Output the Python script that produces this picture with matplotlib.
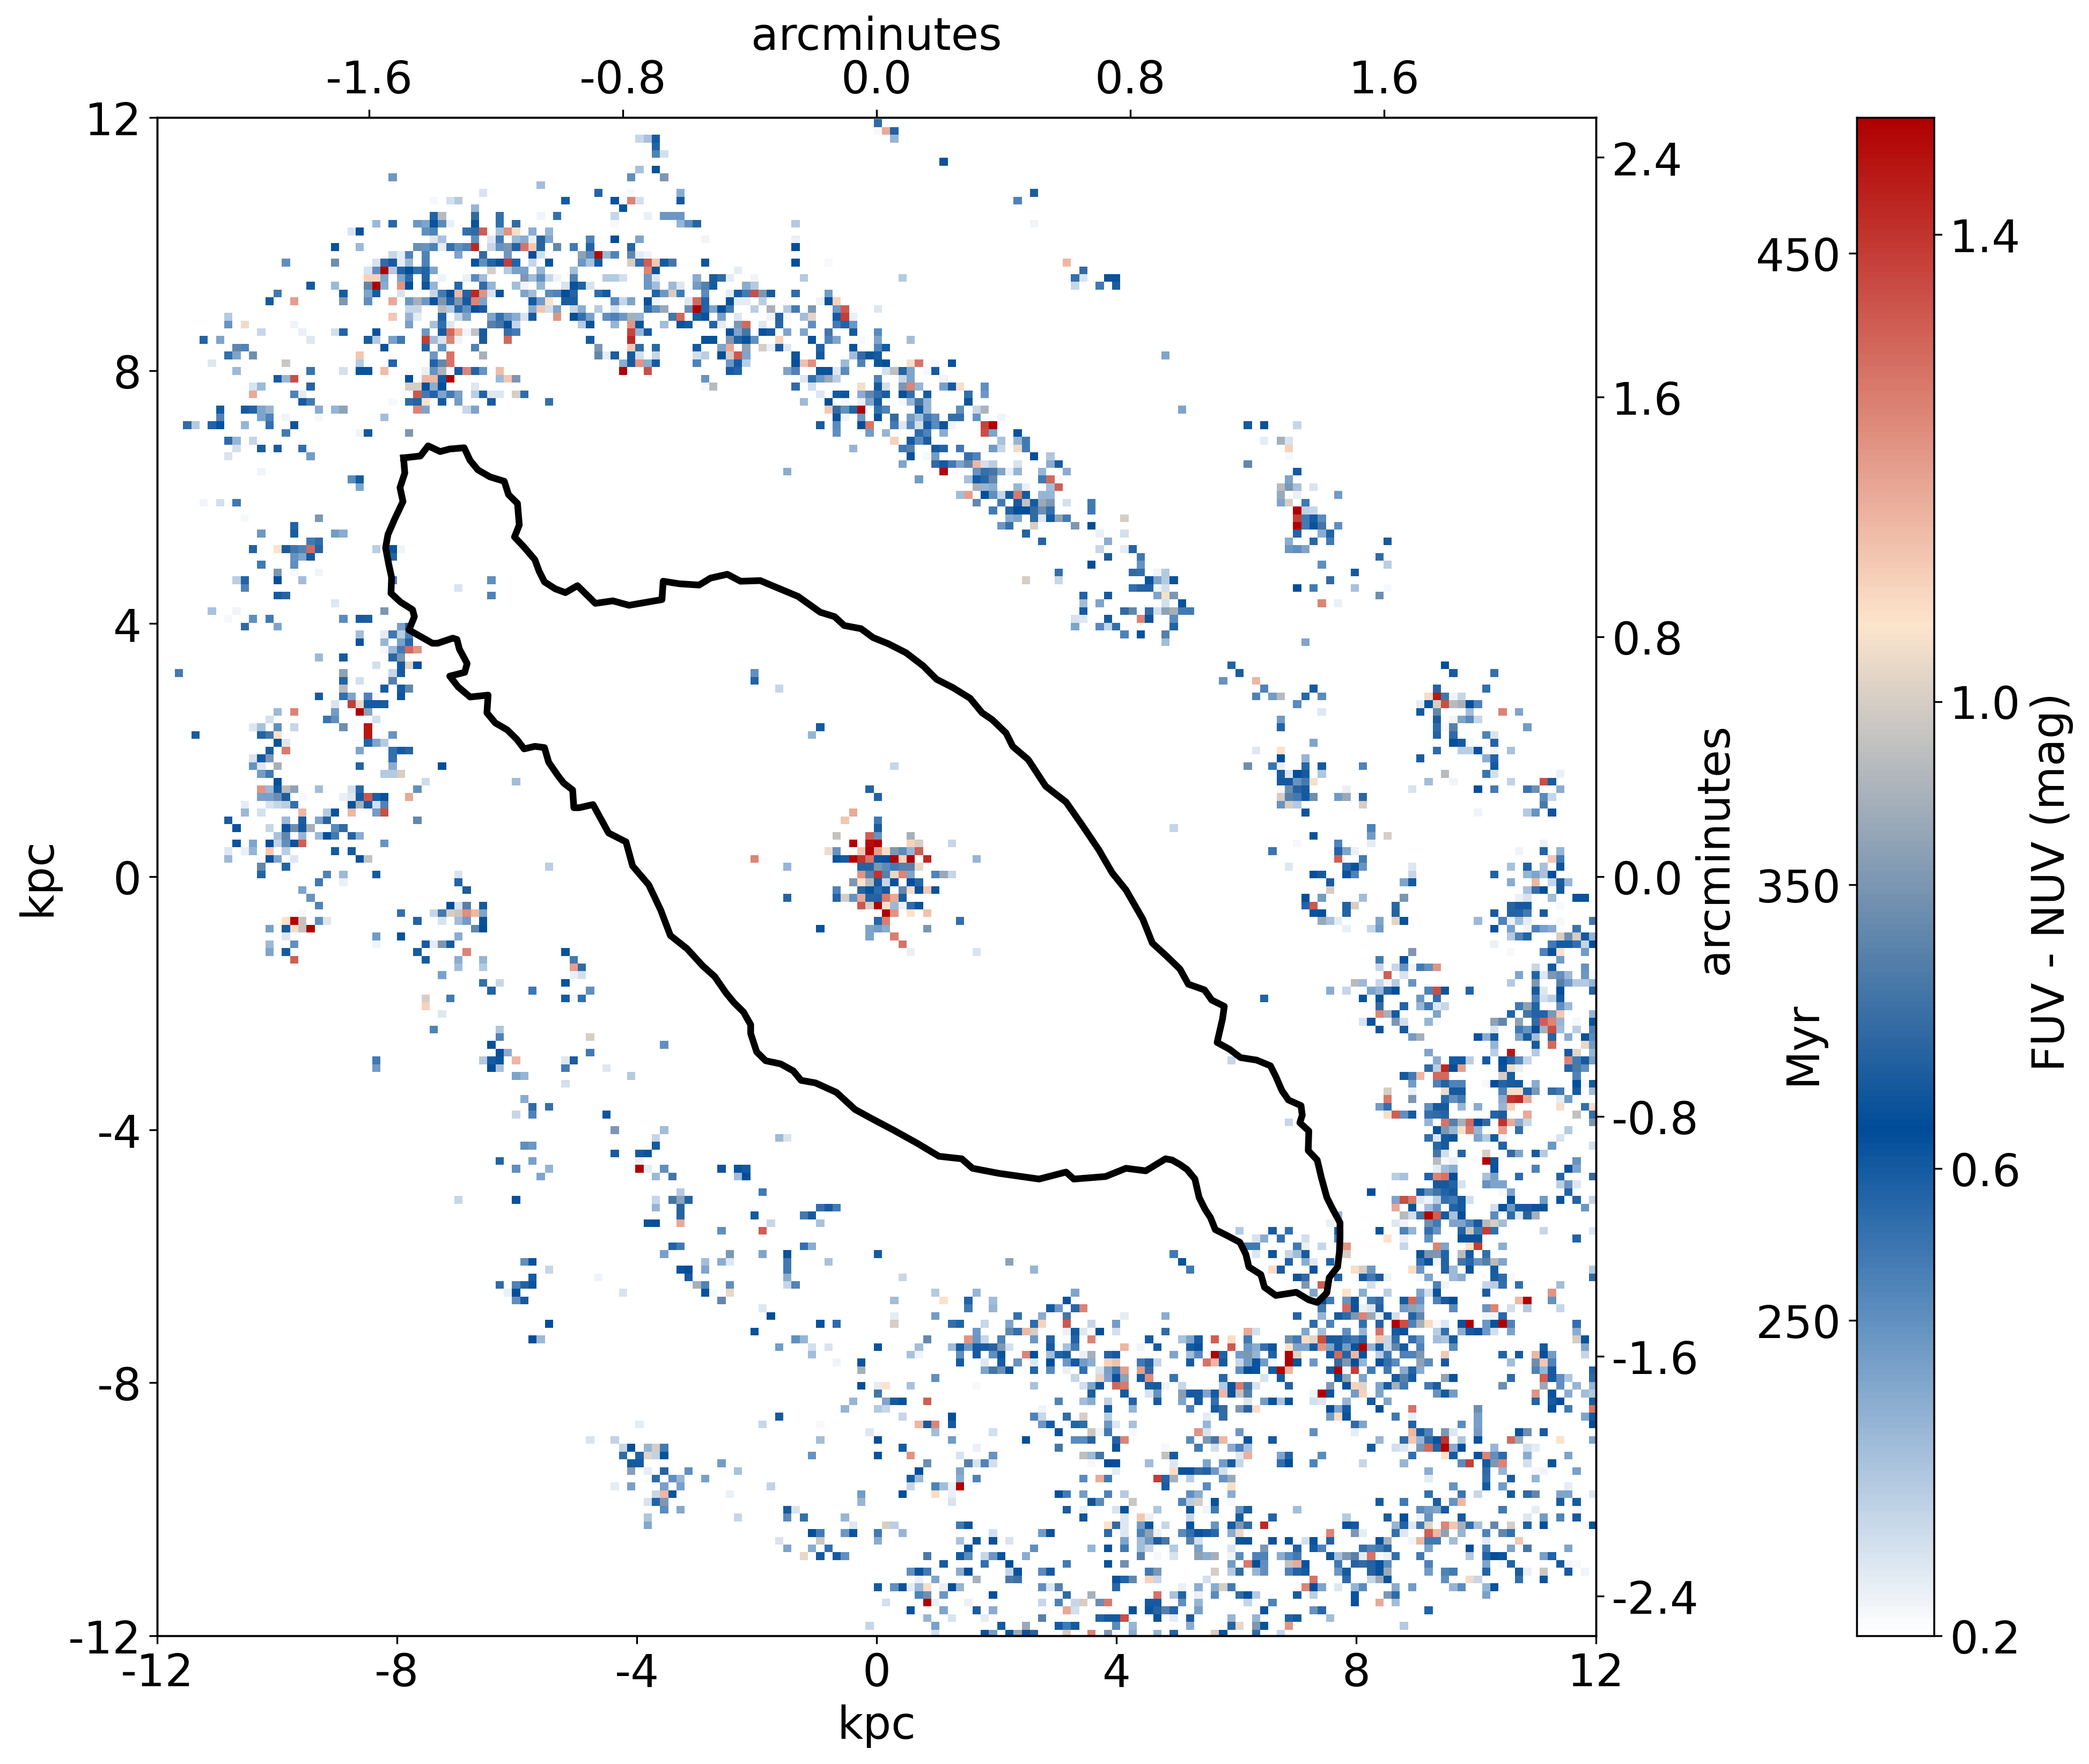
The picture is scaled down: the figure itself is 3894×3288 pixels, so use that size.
import numpy as np
import matplotlib
matplotlib.use("Agg")
import matplotlib.pyplot as plt
from matplotlib.colors import LinearSegmentedColormap

plt.rcParams['axes.unicode_minus'] = False

# each row list is: row, col, colour*100, col, colour*100, ...
north_west_cells = [
    [3, 59, 30, 60, 35, 61, 60], [4, 61, 58], [5, 61, 50, 62, 28], [7, 59, 35, 61, 62],
    [8, 29, 45, 58, 47, 62, 85], [9, 47, 36], [10, 40, 27, 54, 58, 58, 22, 64, 40],
    [11, 34, 22, 36, 28, 37, 33, 50, 60, 56, 62, 58, 125, 59, 28, 64, 60], [12, 39, 38, 57, 62],
    [13, 34, 58, 35, 95, 39, 72, 42, 55, 47, 23, 49, 55, 56, 30, 60, 24, 62, 45, 63, 45, 64, 45],
    [14, 27, 37, 29, 57, 32, 45, 33, 42, 34, 62, 35, 48, 36, 24, 39, 62, 42, 55, 44, 72, 56, 22, 64, 38],
    [15, 24, 27, 25, 62, 33, 47, 34, 50, 38, 55, 39, 72, 40, 132, 42, 35, 43, 122, 44, 105, 46, 40, 48, 38],
    [16, 34, 26, 35, 35, 39, 47, 41, 26, 42, 52, 44, 37, 45, 40, 46, 24, 47, 70, 48, 42, 53, 50, 56, 63, 59, 42],
    [17, 22, 62, 25, 37, 32, 82, 33, 46, 34, 50, 35, 25, 36, 55, 37, 47, 38, 50, 39, 142, 41, 30, 42, 46, 43, 85, 44, 58, 45, 128, 46, 112, 47, 70, 49, 80, 51, 52, 53, 58, 58, 70],
    [18, 29, 30, 30, 25, 31, 50, 33, 50, 37, 42, 40, 72, 43, 45, 46, 63, 47, 28, 52, 88, 53, 48, 54, 148, 55, 37, 56, 50, 58, 80, 59, 25, 60, 23],
    [19, 16, 47, 22, 82, 27, 27, 28, 72, 29, 60, 30, 25, 31, 37, 33, 50, 39, 62, 40, 47, 41, 58, 42, 62, 43, 138, 44, 58, 46, 30, 48, 62, 52, 45, 53, 35, 54, 60, 58, 100, 59, 55, 60, 132, 61, 112, 62, 60, 63, 75],
    [20, 26, 27, 27, 47, 28, 150, 29, 33, 30, 58, 31, 63, 32, 55, 33, 58, 34, 42, 41, 100, 43, 33, 44, 43, 45, 43, 47, 38, 51, 36, 60, 125, 61, 62],
    [21, 26, 110, 27, 110, 28, 42, 30, 42, 31, 56, 33, 58, 35, 23, 38, 24, 39, 48, 40, 36, 45, 85, 46, 36, 47, 47, 48, 30, 49, 23, 51, 50, 55, 33, 56, 33, 57, 28, 60, 45, 61, 26],
    [22, 19, 60, 22, 37, 26, 80, 27, 150, 28, 40, 30, 122, 31, 63, 33, 66, 34, 38, 37, 57, 40, 72, 41, 38, 44, 36, 45, 23, 47, 38, 50, 27, 51, 62, 52, 58, 53, 27, 60, 45, 61, 36, 63, 37, 64, 26],
    [23, 15, 53, 23, 60, 26, 42, 27, 60, 30, 27, 34, 30, 35, 52, 36, 63, 37, 115, 38, 58, 39, 142, 40, 122, 41, 27, 42, 62, 45, 42, 46, 36, 48, 48, 49, 50, 50, 63, 51, 70, 54, 56, 55, 60, 61, 58, 62, 45, 63, 100, 64, 52],
    [24, 14, 60, 17, 120, 23, 85, 26, 47, 29, 118, 31, 45, 32, 92, 33, 45, 34, 62, 35, 85, 36, 58, 37, 85, 38, 60, 39, 125, 40, 42, 46, 60, 47, 44, 48, 107, 50, 68, 51, 68, 56, 48, 57, 30, 58, 42, 60, 62, 61, 23],
    [25, 31, 30, 32, 30, 35, 95, 36, 33, 37, 56, 38, 47, 39, 63, 40, 60, 46, 40, 47, 112, 48, 28, 49, 42, 51, 30, 52, 40, 54, 33, 56, 28, 60, 55, 61, 47, 62, 90],
    [26, 9, 33, 29, 112, 31, 38, 32, 25, 35, 58, 37, 30, 38, 42, 41, 42, 42, 55, 43, 45, 44, 40, 45, 27, 46, 60, 49, 122, 51, 63, 52, 55, 53, 43, 55, 47, 56, 50, 57, 45, 58, 92, 59, 38, 63, 75, 64, 130],
    [27, 9, 46, 11, 104, 17, 23, 31, 43, 34, 35, 35, 55, 36, 26, 41, 78, 42, 75, 43, 62, 44, 30, 52, 33, 53, 62, 56, 38, 58, 122, 59, 62, 62, 36, 64, 62],
    [28, 13, 30, 18, 24, 22, 28, 23, 58, 27, 65, 33, 45, 35, 60, 36, 130, 37, 115, 38, 23, 39, 97, 40, 60, 43, 55, 44, 52, 58, 137, 59, 38, 60, 60],
    [29, 6, 58, 8, 42, 19, 26, 26, 68, 27, 33, 29, 43, 30, 53, 33, 138, 34, 36, 35, 27, 36, 125, 37, 23, 40, 68, 43, 130, 53, 60, 58, 142],
    [30, 10, 80, 11, 50, 28, 62, 33, 58, 35, 46, 39, 50, 54, 85, 58, 112, 59, 72, 61, 57],
    [31, 9, 55, 10, 42, 12, 82, 25, 112, 34, 45, 36, 128, 40, 92, 54, 80, 55, 25, 56, 68, 58, 60, 59, 28, 61, 30],
    [32, 7, 26, 16, 98, 25, 33, 29, 58, 34, 58, 35, 80, 36, 128, 57, 40, 58, 60, 59, 122, 60, 40, 61, 60],
    [33, 10, 37, 19, 54, 23, 28, 25, 62, 26, 62, 28, 114, 33, 24, 34, 46, 35, 93, 37, 60, 38, 125, 39, 58, 40, 46, 42, 114, 57, 150, 60, 135],
    [34, 15, 60, 16, 38, 17, 135, 31, 63, 33, 115, 34, 115, 35, 60, 36, 150, 42, 37, 43, 112, 44, 85],
    [35, 12, 27, 13, 37, 19, 70, 31, 100, 32, 100, 33, 65, 34, 40, 35, 63, 39, 26],
    [36, 12, 118, 17, 50, 18, 25, 32, 133, 33, 52, 34, 58, 35, 42, 36, 52, 37, 43, 39, 32, 40, 58, 41, 26, 42, 26, 44, 100, 45, 56],
    [37, 18, 60, 19, 52, 29, 22, 31, 56, 32, 58, 33, 107, 35, 60, 37, 44, 41, 60, 48, 55],
    [38, 8, 60, 11, 60, 12, 58, 13, 42, 14, 38, 20, 40, 22, 38, 23, 88, 32, 125, 33, 42, 38, 30, 39, 42],
    [39, 8, 50, 13, 42, 14, 50, 16, 23, 20, 22, 28, 36], [40, 4, 72, 5, 33, 7, 58, 8, 62, 11, 38, 14, 55, 17, 66],
    [41, 16, 52, 25, 23, 26, 67, 31, 85], [42, 9, 56, 10, 38, 12, 30], [43, 10, 28, 13, 68, 15, 60, 18, 55],
    [44, 9, 27, 19, 44], [46, 13, 23], [47, 24, 48, 25, 60], [48, 25, 42], [50, 6, 23, 8, 28, 10, 53],
    [52, 11, 22, 20, 85], [53, 17, 58], [54, 13, 45, 17, 68, 22, 44, 23, 40],
]

west_cells = [
    [55, 19, 52, 20, 56], [56, 12, 58, 15, 107, 16, 68, 17, 75, 18, 50, 19, 130, 20, 58, 27, 32, 29, 62, 30, 23],
    [57, 17, 46, 18, 42, 19, 60, 29, 58], [58, 13, 52, 17, 47], [59, 15, 85, 17, 22, 20, 23],
    [60, 10, 32, 11, 58, 15, 63, 18, 36, 29, 50, 41, 47], [61, 11, 50, 37, 27], [62, 15, 60, 16, 70, 41, 50],
    [63, 22, 26], [64, 7, 35, 10, 23, 28, 85], [65, 9, 22, 12, 47, 14, 52, 23, 48, 25, 60, 26, 68],
    [66, 11, 72, 15, 42, 30, 43, 31, 70], [67, 25, 36, 28, 25, 29, 53, 30, 32, 31, 50],
    [68, 25, 62, 28, 38, 30, 43, 31, 57], [69, 28, 22, 29, 37, 30, 52, 31, 130, 32, 122],
    [70, 20, 37, 23, 60, 29, 57, 30, 85], [71, 27, 28, 30, 60, 31, 102, 32, 63], [72, 3, 52, 23, 88, 29, 30, 30, 60],
    [73, 23, 58, 25, 28, 29, 78], [74, 23, 95, 28, 60, 30, 60, 31, 80],
    [75, 20, 60, 23, 55, 24, 42, 26, 50, 27, 22, 30, 66], [76, 22, 27, 24, 138, 25, 103, 26, 60, 27, 60, 28, 68],
    [77, 15, 37, 17, 125, 22, 44, 25, 150, 26, 88], [78, 14, 28, 21, 54, 22, 47, 27, 28],
    [79, 12, 26, 13, 35, 15, 47, 17, 30, 23, 82, 26, 145], [80, 5, 68, 13, 58, 14, 75, 15, 107, 26, 145, 29, 46],
    [81, 15, 62, 16, 26, 26, 58, 27, 42, 28, 33], [82, 14, 68, 16, 127, 25, 42, 29, 55, 30, 60, 31, 70],
    [83, 12, 27, 13, 60, 14, 85, 29, 55], [84, 12, 46, 13, 26, 15, 92, 25, 70, 29, 40, 35, 63],
    [85, 13, 44, 14, 53, 28, 33, 29, 33, 30, 100], [86, 15, 63, 33, 29, 44, 36],
    [87, 13, 122, 14, 37, 15, 60, 16, 95, 17, 88, 20, 36, 24, 28, 25, 57, 32, 47],
    [88, 13, 43, 14, 43, 15, 82, 16, 68, 18, 22, 23, 24, 24, 26, 25, 60, 26, 133, 27, 59, 28, 65, 31, 118],
    [89, 11, 25, 14, 27, 15, 30, 16, 32, 17, 55, 24, 62, 25, 92, 26, 60, 27, 28, 28, 50],
    [90, 11, 37, 13, 28, 18, 115, 21, 33, 22, 62, 24, 115, 27, 44, 28, 135],
    [91, 9, 68, 16, 37, 18, 68, 20, 42, 21, 70, 32, 80], [92, 10, 62, 14, 30, 16, 62, 17, 82, 18, 60, 19, 92, 22, 48, 23, 72],
    [93, 15, 35, 16, 80, 18, 38, 20, 37, 21, 63, 22, 52, 24, 58, 25, 40],
    [94, 10, 62, 12, 42, 14, 63, 15, 31, 16, 47, 17, 62, 18, 132, 28, 46],
    [95, 9, 26, 11, 24, 12, 38, 14, 112, 16, 32, 22, 60, 24, 60], [96, 9, 37, 14, 62, 15, 42, 17, 26, 25, 62, 26, 97],
    [97, 13, 80, 16, 58, 48, 32], [98, 13, 58, 21, 50, 23, 37, 27, 60, 37, 27], [99, 20, 53, 23, 24, 37, 58],
    [100, 18, 42, 38, 68], [101, 19, 46], [102, 20, 50, 36, 63, 37, 27, 38, 78, 40, 60],
    [103, 18, 22, 30, 55, 34, 30, 35, 52, 36, 100, 37, 98, 38, 123, 39, 115, 40, 42],
    [104, 16, 107, 17, 150, 18, 97, 20, 47, 21, 26, 32, 58, 35, 27, 37, 36, 38, 44, 40, 65],
    [105, 14, 43, 16, 60, 17, 105, 18, 97, 19, 150, 39, 80, 40, 63], [106, 16, 26, 27, 44, 30, 62, 37, 40],
    [107, 14, 37, 17, 47, 27, 23, 33, 60, 34, 25, 35, 85, 36, 60], [108, 14, 42, 16, 60, 32, 60, 38, 125, 50, 65],
    [109, 17, 132, 33, 60, 37, 40, 40, 38, 51, 52],
]

south_west_cells = [
    [110, 37, 36, 40, 33, 51, 120, 52, 72], [111, 35, 43, 51, 24, 52, 28], [112, 40, 55, 42, 30, 50, 62],
    [113, 41, 58, 46, 53, 53, 47], [114, 33, 100, 36, 52, 50, 60, 51, 22, 52, 55], [115, 33, 110], [116, 35, 26],
    [118, 34, 50, 42, 34], [119, 42, 50, 53, 100], [120, 41, 65, 62, 47], [121, 42, 65, 43, 40, 53, 52],
    [122, 27, 52, 40, 33, 41, 60, 42, 66, 44, 115, 50, 26, 51, 68], [123, 27, 44, 41, 63, 42, 35, 50, 52, 55, 26],
    [124, 44, 42, 45, 38, 58, 33], [125, 50, 28], [127, 45, 40], [128, 46, 72, 48, 55], [129, 44, 30, 46, 50, 55, 66],
    [131, 56, 85, 62, 36], [132, 61, 30, 76, 37, 77, 27], [133, 45, 47, 46, 45, 61, 60], [134, 56, 60, 59, 60, 60, 62],
    [135, 42, 58, 46, 43, 59, 24], [136, 44, 47, 48, 38, 59, 150, 60, 25, 62, 47, 69, 66, 71, 62, 72, 60],
    [137, 47, 42, 61, 37, 63, 75, 71, 36, 72, 63], [139, 64, 33, 74, 52],
    [140, 37, 30, 44, 62, 61, 30, 63, 75, 64, 88, 65, 58], [141, 61, 38, 64, 70], [142, 64, 70, 73, 60, 79, 52],
    [143, 60, 62, 61, 63, 64, 118, 75, 30], [144, 69, 47, 74, 132], [146, 63, 58, 64, 52, 79, 55],
    [147, 62, 43, 70, 85, 74, 42, 77, 62], [148, 45, 47, 46, 62, 67, 36, 69, 40, 70, 26, 77, 52],
    [149, 48, 30, 64, 62, 65, 63, 67, 42, 77, 53], [150, 46, 60, 54, 23, 65, 60, 77, 40],
    [151, 42, 56, 44, 50, 45, 58, 46, 66, 66, 92, 67, 50, 70, 47, 77, 30, 78, 50],
    [152, 43, 24, 44, 63, 57, 27, 67, 62, 68, 22, 70, 103], [153, 44, 47, 45, 60, 69, 80], [154, 74, 26], [155, 75, 63],
    [156, 48, 63], [157, 73, 65], [158, 46, 63, 47, 37, 78, 47, 79, 38], [159, 76, 44],
    [168, 76, 60], [169, 59, 25, 74, 30], [171, 53, 27, 56, 31], [172, 57, 30, 58, 63, 60, 38, 61, 100, 62, 52],
    [173, 57, 72, 59, 58, 60, 102, 61, 31, 62, 62], [174, 58, 60, 59, 60, 69, 44],
    [175, 58, 87, 60, 25, 62, 70, 65, 47, 71, 35], [176, 61, 56, 63, 47, 64, 38, 67, 43],
    [177, 56, 25, 58, 43, 62, 43, 64, 43, 75, 31], [178, 61, 30, 62, 115, 63, 66, 70, 24], [179, 60, 27, 61, 58, 62, 85],
    [180, 62, 48, 64, 41, 77, 60, 78, 27], [181, 60, 34, 71, 30, 77, 48, 79, 55], [182, 60, 41], [184, 76, 27],
    [185, 77, 42], [186, 79, 103],
]

north_cells = [
    [1, 88, 72], [2, 88, 22, 89, 118, 90, 58], [3, 90, 38], [6, 96, 62], [10, 107, 68], [11, 105, 50],
    [14, 65, 47, 66, 70, 78, 33, 107, 23], [16, 67, 23, 78, 24], [17, 78, 63], [19, 67, 66, 78, 63, 82, 22, 111, 115],
    [20, 71, 25, 113, 72], [21, 66, 40, 68, 68, 69, 72, 70, 25, 73, 23, 79, 33, 91, 33, 112, 55, 113, 27, 116, 62, 117, 62],
    [22, 66, 44, 67, 78, 68, 60, 72, 40, 73, 33, 112, 30, 115, 52, 117, 68],
    [23, 67, 48, 70, 25, 71, 60, 72, 52, 73, 135, 74, 85, 75, 60, 78, 56, 82, 44],
    [24, 65, 26, 66, 130, 67, 58, 70, 62, 71, 25, 72, 25, 74, 32, 81, 23, 82, 62, 83, 110],
    [25, 65, 82, 66, 150, 67, 58, 68, 42, 69, 63, 70, 52, 73, 32, 75, 92, 77, 33, 78, 52, 80, 85, 83, 45, 84, 133, 88, 26],
    [26, 66, 68, 67, 62, 69, 43, 71, 26, 75, 23, 76, 58, 77, 22, 79, 36, 80, 102, 83, 60, 84, 138, 85, 24],
    [27, 65, 60, 68, 58, 69, 25, 71, 85, 72, 130, 74, 26, 76, 57, 80, 47, 83, 52, 84, 58, 85, 45],
    [28, 70, 62, 71, 42, 72, 75, 74, 62, 75, 60, 77, 42, 79, 42, 82, 75, 85, 60, 88, 48],
    [29, 67, 65, 68, 62, 70, 85, 71, 58, 72, 62, 73, 47, 76, 110, 80, 62, 82, 50, 83, 42, 86, 22, 88, 42, 92, 36],
    [30, 66, 60, 69, 42, 70, 118, 72, 88, 74, 100, 75, 24, 76, 60, 77, 26, 81, 58, 85, 62, 88, 50, 89, 60],
    [31, 66, 28, 67, 32, 69, 63, 70, 100, 71, 133, 72, 42, 78, 66, 81, 60, 85, 36, 86, 72, 87, 66, 88, 60, 123, 42],
    [32, 66, 50, 70, 45, 71, 60, 72, 32, 78, 63, 79, 113, 80, 123, 84, 37, 86, 50, 88, 66, 89, 64, 92, 105, 93, 128, 95, 22, 97, 62],
    [33, 70, 60, 71, 58, 77, 42, 78, 50, 81, 62, 82, 62, 83, 26, 84, 48, 89, 28, 90, 96, 91, 70, 92, 42, 94, 22, 95, 60],
    [34, 67, 46, 79, 26, 80, 55, 81, 45, 82, 90, 83, 32, 88, 50, 91, 30, 92, 42, 96, 23],
    [35, 67, 22, 68, 95, 78, 72, 80, 28, 86, 105, 88, 60, 89, 28, 91, 85, 92, 125, 93, 38, 96, 43, 97, 60, 98, 105, 101, 47],
    [36, 81, 26, 83, 60, 84, 66, 86, 40, 87, 80, 88, 55, 89, 68, 91, 63, 92, 55, 94, 60, 99, 55, 101, 45],
    [37, 79, 37, 82, 63, 84, 22, 86, 24, 87, 42, 88, 60, 91, 22, 92, 38, 93, 75, 94, 38, 99, 66],
    [38, 82, 112, 83, 72, 84, 47, 85, 70, 86, 150, 88, 55, 89, 50, 93, 60, 94, 38, 98, 47, 100, 30, 101, 93, 125, 42],
    [39, 83, 65, 84, 23, 86, 45, 88, 62, 90, 72, 92, 44, 93, 36, 94, 52, 95, 48, 97, 55, 98, 55, 100, 46, 103, 23],
    [40, 81, 68, 83, 48, 86, 63, 87, 128, 90, 52, 91, 26, 92, 48, 93, 28, 94, 60, 95, 48, 96, 66, 97, 23, 101, 137, 102, 150],
    [41, 83, 47, 87, 44, 89, 38, 93, 56, 94, 50, 96, 40, 101, 135, 102, 42, 105, 62],
    [42, 90, 110, 92, 60, 93, 48, 94, 68, 103, 35, 105, 38, 106, 52],
    [43, 85, 38, 91, 53, 92, 78, 95, 60, 96, 58, 98, 53, 102, 44, 103, 30, 105, 104, 106, 52],
    [44, 92, 65, 94, 22, 95, 44, 99, 55, 100, 50, 107, 63, 109, 34],
    [45, 91, 42, 95, 72, 96, 60, 97, 52, 98, 42, 99, 80, 100, 115, 101, 28, 102, 32, 105, 27, 109, 40, 110, 68],
    [46, 77, 40, 96, 148, 100, 46, 101, 55, 102, 75, 103, 42, 104, 24, 105, 38, 108, 38, 111, 40],
    [47, 93, 44, 99, 35, 100, 60, 101, 57, 102, 80, 108, 52, 109, 130, 110, 22],
    [48, 100, 92, 101, 38, 102, 40, 105, 38, 106, 24, 109, 36, 110, 132],
    [49, 98, 36, 99, 120, 101, 63, 102, 47, 103, 30, 104, 60, 105, 127, 106, 60, 108, 38, 109, 38],
    [50, 100, 80, 103, 52, 105, 60, 106, 97, 107, 60, 108, 90, 109, 85, 111, 28, 114, 52],
    [51, 102, 52, 104, 70, 105, 63, 106, 63, 107, 72, 108, 82, 109, 55, 114, 52],
    [52, 104, 40, 105, 42, 107, 72, 108, 26, 109, 60, 110, 88, 111, 52, 118, 100],
    [53, 103, 45, 104, 55, 107, 100, 112, 85, 114, 63], [54, 106, 58, 115, 24, 118, 28], [55, 108, 58, 116, 40],
    [56, 115, 30, 118, 25, 119, 58], [57, 116, 68, 120, 53], [58, 114, 63, 120, 46],
    [59, 110, 55, 119, 72, 120, 55, 122, 23, 123, 33], [60, 106, 100, 110, 30, 121, 62, 122, 42, 123, 33, 124, 62],
    [61, 119, 55, 120, 70, 121, 58, 122, 23, 123, 28], [62, 113, 58, 116, 60, 122, 42, 123, 105, 124, 85],
    [63, 113, 36, 115, 42, 123, 28, 125, 62], [64, 113, 60, 118, 72, 119, 80, 121, 72, 122, 28, 123, 88, 124, 92, 126, 52],
    [65, 112, 27, 113, 26, 116, 60, 120, 125, 121, 62, 124, 48], [66, 112, 42, 115, 48, 116, 30, 117, 55, 124, 58],
    [67, 118, 50, 120, 62, 123, 78], [68, 123, 36],
]

north_east_cells = [
    [40, 133, 60, 135, 62, 139, 30], [42, 135, 25, 137, 92, 138, 27], [43, 138, 110], [44, 138, 22], [45, 133, 80],
    [46, 139, 60], [47, 138, 42], [48, 137, 95, 138, 85, 139, 35, 141, 27], [49, 137, 90, 139, 24, 144, 44],
    [50, 137, 42, 138, 100, 140, 53], [51, 139, 150, 140, 31, 141, 30], [52, 139, 138, 140, 52, 141, 60, 142, 48],
    [53, 139, 150, 140, 52, 141, 62, 142, 75, 144, 47], [54, 139, 58, 142, 40, 143, 58],
    [55, 138, 40, 141, 57, 143, 52, 150, 60], [56, 138, 45, 139, 47, 140, 42], [57, 149, 56], [58, 142, 47, 150, 32],
    [59, 146, 60], [60, 143, 72], [61, 139, 63, 141, 52, 146, 35, 150, 22],
]

east_cells = [
    [62, 149, 82], [63, 142, 125, 144, 24], [64, 125, 52], [68, 140, 42], [71, 131, 58, 157, 63],
    [72, 132, 68, 158, 60, 163, 55], [73, 130, 46, 134, 115], [74, 135, 50, 141, 60, 156, 58, 162, 55],
    [75, 134, 50, 136, 44, 137, 95, 140, 57, 142, 48, 155, 108, 156, 145, 157, 75, 158, 23, 159, 30],
    [76, 139, 48, 154, 25, 155, 62, 156, 100, 157, 135, 158, 95, 159, 92, 160, 63, 161, 50],
    [77, 142, 26, 154, 60, 156, 80, 160, 36, 164, 125, 166, 42], [78, 137, 44, 156, 68, 158, 23, 159, 42, 160, 48, 161, 30],
    [79, 137, 58, 156, 56, 157, 22, 158, 78, 167, 44], [80, 156, 58, 158, 56, 162, 50, 163, 27],
    [81, 141, 42, 158, 63, 159, 60, 160, 22, 163, 70], [82, 134, 26, 137, 107, 156, 56, 159, 32, 160, 32, 161, 62, 163, 23, 165, 35],
    [83, 137, 63, 140, 38, 154, 68, 162, 40, 163, 58], [84, 133, 82, 136, 54, 137, 24, 140, 57, 142, 60, 147, 50, 163, 60],
    [85, 137, 68, 138, 26, 139, 63, 140, 60, 142, 34, 157, 95, 162, 54, 163, 28, 171, 24],
    [86, 137, 60, 138, 60, 139, 46, 140, 52, 141, 105, 155, 36, 158, 23, 165, 31, 169, 135, 170, 68],
    [87, 137, 22, 138, 82, 139, 70, 140, 60, 145, 24, 153, 27, 161, 63, 163, 52, 167, 54, 168, 82, 171, 40],
    [88, 137, 100, 138, 78, 139, 52, 140, 60, 141, 82, 144, 44, 145, 90, 147, 57, 169, 48, 170, 30],
    [89, 137, 46, 138, 100, 139, 33, 147, 100, 169, 76], [90, 140, 66, 161, 23, 167, 33, 168, 46, 170, 62],
    [92, 148, 50], [93, 141, 62, 148, 44, 150, 100], [94, 139, 22, 144, 50, 148, 25, 169, 24],
    [95, 136, 54, 144, 58, 145, 42, 146, 24, 166, 23, 169, 58, 171, 38], [96, 144, 132, 147, 52, 170, 112, 171, 52],
    [97, 138, 26, 145, 57, 146, 62, 147, 46, 153, 26, 165, 35, 167, 58, 169, 35, 171, 66],
    [98, 141, 63, 142, 60, 145, 62, 146, 50, 153, 30, 163, 58, 167, 38, 168, 42, 169, 35, 170, 63],
    [99, 143, 68, 152, 42, 153, 60, 165, 40, 168, 115, 170, 30, 171, 68, 172, 38],
    [100, 143, 100, 167, 35, 168, 55, 169, 63, 171, 60],
    [101, 140, 63, 142, 44, 147, 36, 152, 84, 166, 24, 167, 27, 170, 36, 173, 62, 174, 62],
    [102, 140, 58, 141, 133, 145, 58, 146, 100, 151, 57, 165, 70, 166, 60, 167, 60, 171, 22],
    [103, 141, 62, 142, 63, 145, 58, 151, 58, 163, 60, 165, 58, 166, 58, 167, 52, 169, 60],
    [104, 142, 90, 143, 35, 144, 25, 149, 42, 151, 102, 152, 62, 161, 37, 164, 50, 165, 24, 166, 36, 167, 25, 171, 22, 175, 52],
    [105, 145, 24, 148, 30, 149, 44, 163, 62, 165, 43, 167, 23, 168, 50, 169, 43, 170, 40, 173, 54],
    [106, 165, 33, 166, 50, 167, 58, 171, 100, 172, 82, 173, 100, 174, 60, 175, 38],
    [107, 163, 24, 170, 52, 171, 60, 172, 60, 173, 55, 174, 30, 175, 63], [108, 153, 85, 165, 22, 169, 50, 170, 62, 171, 107, 174, 44],
    [109, 149, 52, 152, 62, 171, 44],
    [110, 149, 30, 151, 30, 152, 46, 153, 23, 154, 52, 155, 47, 156, 122, 168, 30, 170, 60, 174, 46],
    [111, 150, 132, 152, 27, 166, 42, 168, 58, 169, 26, 170, 85, 171, 47, 172, 37, 174, 45, 175, 22],
    [112, 146, 95, 147, 37, 149, 30, 150, 23, 151, 33, 153, 46, 165, 33, 168, 85, 171, 78, 172, 44, 173, 33, 174, 33, 175, 38],
    [113, 143, 40, 145, 30, 148, 42, 149, 38, 150, 70, 151, 63, 155, 50, 156, 135, 157, 66, 160, 58, 168, 60, 169, 26, 171, 63, 175, 70],
    [114, 135, 58, 147, 62, 149, 62, 154, 45, 156, 55, 168, 50, 169, 28, 170, 32, 171, 60],
    [115, 149, 72, 152, 58, 154, 38, 155, 52, 156, 26, 157, 30, 166, 52, 167, 88, 168, 58, 171, 47, 172, 37],
    [116, 149, 125, 150, 92, 151, 60, 156, 42, 165, 58, 167, 75, 168, 58, 169, 58, 170, 85, 171, 112, 175, 38],
]

south_east_cells = [
    [117, 147, 27, 148, 62, 151, 85, 152, 28, 155, 38, 156, 22, 163, 88, 164, 80, 166, 88, 168, 72, 169, 132, 170, 125, 171, 38, 173, 22, 175, 62],
    [118, 149, 62, 152, 60, 163, 27, 166, 52, 167, 46, 168, 63, 169, 92, 170, 135, 171, 36, 173, 32, 175, 50],
    [119, 153, 44, 154, 92, 161, 62, 162, 40, 163, 60, 166, 42, 167, 68, 168, 36, 170, 70, 172, 40, 174, 62, 175, 48],
    [120, 163, 38, 168, 60, 170, 130, 174, 103, 175, 44], [121, 155, 42, 163, 32, 165, 145, 168, 33, 172, 60, 173, 102, 175, 38],
    [122, 131, 30, 156, 40, 158, 60, 159, 60, 160, 32, 162, 60, 164, 63, 165, 58, 166, 48, 167, 30, 172, 125, 173, 52, 174, 60, 175, 43],
    [123, 155, 72, 156, 32, 157, 142, 158, 63, 159, 120, 164, 62, 165, 104, 166, 24, 172, 58, 173, 76, 174, 47],
    [124, 152, 60, 153, 52, 154, 115, 156, 130, 157, 130, 164, 100, 165, 68, 173, 50],
    [125, 153, 44, 156, 50, 157, 58, 158, 50, 159, 50, 162, 22, 163, 63, 164, 70, 165, 68, 166, 60, 168, 40, 173, 63, 174, 22, 175, 60],
    [126, 150, 100, 153, 24, 157, 104, 158, 60, 159, 60, 164, 50, 165, 105, 166, 108, 167, 58, 168, 85, 170, 72, 171, 52, 173, 60, 175, 36],
    [127, 150, 127, 153, 85, 157, 56, 158, 47, 159, 52, 164, 40, 165, 140, 166, 142, 167, 118, 171, 25, 172, 44, 173, 22],
    [128, 149, 44, 150, 55, 155, 47, 156, 60, 157, 60, 159, 38, 161, 40, 164, 38, 165, 110, 171, 105, 174, 55, 175, 108],
    [129, 150, 105, 151, 132, 152, 47, 153, 60, 155, 55, 156, 72, 157, 58, 163, 58, 164, 68, 167, 118, 173, 97, 175, 55],
    [130, 138, 30, 155, 38, 157, 128, 158, 78, 159, 92, 160, 130, 161, 63, 162, 72, 164, 140, 165, 118, 166, 40, 167, 30, 175, 85],
    [131, 156, 62, 157, 85, 158, 38, 159, 105, 160, 127, 161, 38, 164, 120, 166, 55, 172, 33],
    [132, 155, 55, 156, 26, 157, 60, 158, 66, 161, 42, 162, 33, 163, 60, 164, 23, 171, 27],
    [133, 156, 57, 157, 60, 164, 58, 170, 45, 175, 28], [134, 156, 75, 157, 28, 159, 58, 162, 100, 165, 72, 166, 42, 168, 60, 169, 33],
    [135, 156, 95, 157, 22, 158, 24, 162, 150, 163, 66, 173, 46], [136, 156, 25, 157, 36, 158, 40, 163, 62, 168, 50, 172, 62, 173, 42],
    [137, 151, 32, 152, 35, 155, 58, 156, 125, 157, 128, 158, 63, 162, 35, 163, 43, 166, 56, 171, 70, 175, 72],
    [138, 156, 60, 157, 60, 158, 58, 159, 27, 162, 46, 163, 42, 164, 42, 171, 32, 172, 45, 173, 26],
    [139, 148, 63, 154, 60, 155, 48, 156, 75, 157, 58, 158, 60, 164, 22, 165, 42, 172, 58],
    [140, 151, 42, 152, 135, 153, 127, 154, 26, 155, 23, 156, 32, 157, 55, 158, 52, 159, 60, 160, 28, 165, 63, 169, 44, 171, 62, 173, 58, 175, 30],
    [141, 151, 118, 153, 62, 155, 36, 156, 46, 157, 22, 158, 58, 159, 60, 163, 28, 164, 62, 165, 45, 166, 60, 167, 60, 168, 62, 169, 62, 174, 45],
    [142, 144, 38, 152, 95, 153, 28, 154, 75, 155, 150, 156, 132, 157, 60, 158, 35, 159, 63, 163, 48, 165, 56, 166, 26, 167, 70, 168, 92],
    [143, 143, 24, 151, 26, 152, 23, 155, 82, 156, 52, 158, 42, 159, 42, 160, 50, 161, 60, 162, 95, 163, 100, 164, 36],
    [144, 132, 33, 136, 60, 138, 55, 144, 58, 149, 62, 152, 50, 153, 38, 155, 55, 156, 46, 159, 58, 160, 98, 161, 52, 162, 138, 163, 55, 169, 30, 175, 26],
    [145, 134, 27, 135, 40, 137, 55, 140, 28, 144, 50, 150, 107, 152, 24, 155, 47, 159, 62, 160, 62, 161, 62, 173, 58],
    [146, 133, 52, 134, 52, 139, 52, 140, 24, 142, 30, 145, 122, 152, 30, 156, 125, 157, 42, 160, 107, 161, 138, 164, 40],
    [147, 134, 26, 136, 66, 138, 30, 139, 36, 140, 60, 145, 100, 154, 66, 155, 84, 156, 85, 157, 58, 159, 95, 160, 60, 162, 55],
    [148, 138, 58, 140, 40, 141, 26, 143, 58, 154, 55, 155, 62, 156, 23, 157, 58, 159, 75, 160, 57, 161, 46, 162, 78, 163, 95, 164, 42],
    [149, 126, 52, 136, 108, 137, 68, 141, 62, 146, 105, 147, 100, 148, 45, 153, 108, 154, 45, 157, 70, 158, 37, 160, 62, 163, 60, 175, 33],
    [150, 139, 66, 140, 72, 144, 58, 147, 60, 148, 52, 149, 68, 150, 23, 154, 22, 155, 42, 158, 37, 159, 40, 163, 68, 164, 56, 165, 22, 175, 72],
    [151, 140, 85, 142, 132, 148, 28, 156, 50, 157, 23, 162, 30, 163, 32, 164, 55, 166, 55, 171, 36],
    [152, 141, 42, 145, 107, 147, 40, 150, 32, 154, 42, 155, 28, 156, 62, 162, 68, 170, 122],
    [153, 142, 63, 143, 52, 145, 46, 146, 66, 148, 52, 149, 72, 152, 60, 153, 130, 154, 46, 156, 50, 157, 60, 158, 63, 166, 115, 167, 150, 170, 46],
    [154, 142, 52, 145, 130, 146, 62, 147, 24, 148, 26, 149, 58, 152, 44, 153, 88, 154, 40, 158, 48, 162, 46, 163, 125, 165, 28, 167, 33, 171, 30],
    [155, 139, 58, 142, 38, 144, 60, 145, 56, 146, 85, 147, 125, 148, 90, 149, 23, 150, 60, 151, 28, 153, 58, 154, 80, 162, 23, 163, 23, 164, 57],
    [156, 141, 56, 143, 50, 147, 55, 149, 70, 151, 150, 152, 135, 153, 50, 154, 92, 155, 108, 156, 22, 157, 26, 159, 62, 160, 150, 162, 45, 163, 62, 164, 150, 165, 50, 173, 55],
    [157, 140, 42, 142, 36, 145, 47, 147, 38, 149, 128, 151, 60, 152, 62, 156, 32, 157, 55, 159, 40, 160, 60, 161, 62, 162, 45, 163, 28, 165, 42, 173, 40],
    [158, 138, 82, 139, 52, 140, 108, 141, 102, 142, 135, 143, 60, 144, 68, 145, 56, 146, 53, 147, 58, 149, 112, 150, 30, 151, 55, 153, 55, 154, 46, 156, 36, 157, 34, 158, 60, 173, 100, 174, 62],
    [159, 138, 106, 139, 42, 140, 42, 141, 60, 142, 122, 143, 42, 144, 60, 145, 44, 146, 62, 147, 150, 148, 38, 149, 60, 150, 30, 151, 80, 152, 60, 154, 50, 158, 48, 169, 60, 174, 42],
    [160, 138, 150, 139, 102, 143, 60, 144, 130, 145, 70, 146, 115, 147, 62, 149, 32, 150, 52, 152, 50, 153, 50, 154, 85, 157, 112, 164, 58, 166, 60, 168, 115, 169, 63, 170, 44, 174, 30],
    [161, 138, 55, 139, 62, 141, 45, 144, 72, 145, 85, 146, 63, 147, 38, 149, 62, 150, 55, 151, 48, 154, 88, 155, 48, 157, 60, 165, 36, 168, 82, 169, 112, 170, 50],
    [162, 143, 60, 144, 150, 145, 22, 146, 138, 148, 52, 150, 52, 152, 40, 153, 58, 154, 40, 168, 50, 169, 38, 170, 60, 175, 58],
    [163, 144, 62, 145, 88, 147, 42, 151, 60, 152, 78, 153, 60, 157, 88, 158, 62, 165, 56, 169, 132, 170, 60, 171, 47, 172, 34, 175, 72],
    [164, 143, 85, 145, 62, 146, 110, 147, 102, 149, 42, 150, 60, 151, 92, 152, 52, 155, 52, 156, 68, 164, 82, 169, 90, 171, 47, 173, 38, 175, 38],
    [165, 141, 23, 142, 150, 143, 66, 146, 44, 147, 110, 149, 42, 156, 46, 157, 60, 158, 44, 168, 122, 170, 62, 172, 40, 174, 36, 175, 33],
    [166, 141, 28, 142, 26, 145, 38, 148, 60, 150, 42, 168, 58, 170, 60, 171, 63, 175, 68],
    [167, 143, 63, 144, 42, 145, 60, 149, 63, 153, 128, 161, 82, 170, 63, 172, 52, 175, 128],
    [168, 143, 44, 144, 108, 145, 62, 151, 53, 153, 24, 161, 43, 174, 42, 175, 60],
    [169, 146, 72, 147, 42, 153, 58, 159, 48, 161, 43, 175, 63],
    [170, 141, 47, 146, 25, 153, 115, 154, 68, 155, 50, 157, 85, 158, 26, 161, 44, 166, 62, 167, 82, 169, 60],
    [171, 149, 38, 152, 72, 153, 112, 154, 38, 155, 72, 156, 62, 157, 140, 159, 34, 161, 62, 165, 130, 166, 90, 171, 107, 175, 42],
]

south_cells = [
    [152, 95, 33, 100, 38, 112, 42], [153, 90, 36, 96, 107, 99, 58, 102, 36, 111, 62],
    [154, 99, 52, 102, 38, 109, 60, 110, 45, 112, 57, 113, 125], [155, 90, 25, 95, 44, 105, 55, 108, 40, 111, 75, 118, 25, 123, 40],
    [156, 81, 62, 83, 56, 90, 100, 97, 55, 98, 58, 101, 30, 104, 42, 107, 56, 108, 110, 111, 133, 114, 30, 117, 44],
    [157, 100, 45, 104, 80, 105, 55, 106, 115, 107, 100, 111, 24, 112, 60, 113, 26, 115, 63, 117, 28, 123, 72, 133, 118, 134, 28],
    [158, 94, 80, 99, 122, 100, 45, 101, 30, 103, 50, 107, 45, 109, 70, 112, 58, 114, 125, 121, 60, 125, 35, 126, 42, 127, 60, 129, 132, 131, 108, 133, 52],
    [159, 80, 28, 82, 27, 88, 62, 93, 36, 97, 36, 98, 60, 99, 45, 100, 60, 101, 68, 102, 70, 103, 85, 104, 28, 109, 60, 111, 35, 112, 52, 118, 115, 120, 23, 122, 60, 126, 60, 127, 62, 131, 133, 133, 45, 134, 40, 135, 55, 136, 66],
    [160, 80, 36, 92, 35, 93, 23, 98, 47, 100, 60, 102, 47, 103, 62, 106, 125, 107, 63, 109, 36, 110, 58, 111, 60, 113, 24, 114, 92, 116, 70, 117, 60, 124, 42, 126, 36, 127, 48, 129, 150, 130, 58, 132, 44, 133, 85, 134, 38, 136, 58],
    [161, 83, 23, 86, 62, 98, 60, 101, 26, 103, 60, 105, 46, 107, 26, 109, 63, 111, 45, 112, 60, 113, 44, 114, 40, 116, 110, 117, 113, 120, 53, 121, 58, 122, 30, 126, 60, 128, 128, 129, 115, 130, 60, 132, 30, 133, 44, 134, 62, 135, 44, 136, 22, 138, 150],
    [162, 86, 92, 101, 42, 102, 75, 103, 82, 104, 62, 107, 58, 109, 48, 111, 24, 113, 55, 115, 27, 116, 43, 117, 52, 118, 120, 120, 120, 121, 72, 132, 47, 133, 63, 134, 62, 136, 60, 137, 150, 138, 115],
    [163, 95, 47, 112, 30, 115, 102, 116, 42, 117, 62, 118, 88, 120, 60, 121, 123, 124, 54, 130, 57, 135, 27, 137, 60],
    [164, 86, 63, 88, 25, 89, 107, 92, 35, 100, 22, 107, 35, 113, 28, 114, 42, 115, 66, 117, 130, 118, 127, 121, 68, 122, 60, 123, 23, 125, 30, 130, 33, 131, 62, 132, 127, 133, 75, 134, 27, 138, 58],
    [165, 88, 75, 114, 68, 118, 60, 121, 27, 122, 46, 125, 87, 126, 60, 127, 60, 128, 42, 129, 60, 130, 115, 131, 62, 132, 97, 133, 78],
    [166, 85, 38, 89, 42, 90, 60, 91, 62, 94, 132, 110, 50, 113, 36, 114, 40, 116, 31, 119, 58, 122, 60, 125, 42, 127, 60, 129, 55, 133, 26, 135, 44, 136, 62, 137, 35, 138, 62],
    [167, 84, 38, 88, 33, 89, 30, 108, 23, 116, 60, 119, 38, 126, 50, 129, 60, 130, 72, 132, 85, 133, 70, 134, 108],
    [168, 91, 30, 97, 63, 107, 50, 108, 30, 111, 72, 113, 100, 116, 32, 128, 25, 130, 72],
    [169, 81, 22, 93, 115, 94, 60, 95, 125, 97, 60, 108, 45, 109, 60, 112, 58, 113, 56, 116, 45, 117, 26, 119, 35, 128, 38],
    [170, 87, 26, 95, 36, 102, 28, 110, 62, 114, 98, 115, 23, 116, 52, 119, 22, 127, 122, 128, 27, 132, 45],
    [171, 81, 36, 88, 63, 97, 44, 106, 63, 112, 48, 113, 48, 114, 70, 117, 58, 118, 125, 126, 48, 128, 85, 129, 75, 130, 115, 133, 62, 136, 60],
    [172, 91, 60, 100, 24, 110, 75, 117, 62, 123, 22, 127, 52, 129, 28, 131, 40, 132, 50, 133, 35],
    [173, 80, 46, 88, 62, 92, 122, 98, 27, 102, 46, 113, 96, 114, 37, 115, 75, 123, 97, 124, 60, 132, 26, 133, 116, 137, 42, 138, 58],
    [174, 94, 82, 99, 78, 100, 27, 101, 50, 102, 28, 114, 22, 116, 63, 117, 63, 121, 36, 124, 26, 128, 42, 130, 44, 131, 60, 132, 30, 137, 55, 138, 63],
    [175, 93, 63, 98, 42, 117, 25, 124, 108, 125, 62, 126, 62, 127, 72, 128, 58, 129, 45, 130, 28],
    [176, 92, 68, 93, 37, 98, 40, 100, 50, 113, 48, 115, 117, 116, 52, 122, 138, 123, 58, 124, 92, 126, 32, 130, 46, 131, 90],
    [177, 92, 30, 95, 50, 96, 36, 97, 24, 98, 150, 123, 68, 128, 48, 131, 105],
    [178, 86, 44, 91, 63, 95, 108, 97, 24, 110, 63, 111, 52, 113, 44, 116, 50, 118, 33, 126, 47, 127, 40, 131, 40],
    [179, 86, 38, 97, 27, 114, 66, 115, 48, 119, 98, 125, 50, 126, 32, 127, 100, 129, 62, 131, 22],
    [180, 111, 68, 113, 24, 117, 27, 118, 62, 122, 34, 126, 66, 128, 23, 129, 52, 132, 46, 133, 68],
    [181, 84, 38, 113, 66, 118, 26, 120, 112, 121, 24, 126, 30, 132, 60, 136, 58],
    [182, 85, 26, 89, 100, 90, 32, 98, 53, 99, 66, 116, 107, 117, 72, 118, 26, 120, 44, 121, 66, 123, 30, 126, 62, 129, 46, 131, 60, 132, 85, 133, 72, 135, 142],
    [183, 80, 63, 81, 52, 84, 45, 85, 62, 88, 52, 91, 38, 102, 28, 108, 44, 109, 62, 116, 56, 118, 26, 120, 50, 121, 88, 122, 24, 125, 48, 126, 55, 127, 62, 128, 60, 129, 57, 131, 40, 132, 103],
    [184, 81, 98, 88, 40, 98, 35, 100, 66, 102, 65, 104, 27, 118, 42, 120, 36, 121, 45, 122, 68, 123, 75, 126, 78, 127, 28, 132, 62, 133, 62, 136, 62, 138, 62],
    [185, 80, 40, 82, 55, 99, 62, 107, 47, 114, 38, 116, 62, 118, 52, 120, 36, 121, 30, 124, 33, 127, 43, 131, 27, 135, 85],
    [186, 81, 60, 83, 60, 84, 47, 94, 76, 98, 60, 99, 48, 101, 30, 102, 45, 103, 62, 106, 40, 120, 78, 122, 22, 124, 27, 127, 88, 128, 40, 129, 92, 131, 23, 132, 48, 134, 50, 135, 50, 137, 40, 138, 48],
    [187, 96, 60, 101, 55, 104, 63, 111, 52, 116, 62, 118, 82, 131, 44, 133, 127, 134, 63, 135, 47, 138, 97],
    [188, 92, 47, 93, 62, 94, 52, 98, 40, 99, 63, 104, 30, 105, 62, 108, 48, 109, 60, 121, 52, 122, 85, 129, 100, 131, 33, 132, 72, 134, 38, 135, 47, 138, 50],
    [189, 93, 24, 95, 42, 100, 92, 104, 76, 105, 74, 117, 62, 118, 58, 119, 80, 121, 110, 122, 30, 128, 28],
    [190, 88, 60, 90, 47, 91, 62, 92, 25, 93, 37, 94, 105, 96, 24, 97, 63, 98, 38, 108, 47, 109, 26, 110, 78, 117, 57, 125, 24, 127, 40, 129, 40, 130, 100, 131, 52],
    [191, 93, 50, 94, 82, 96, 45, 102, 63, 111, 72, 114, 92, 122, 128, 124, 35, 125, 58, 127, 24, 129, 48, 132, 72, 133, 62, 134, 33],
    [192, 89, 28, 94, 150, 95, 24, 99, 24, 108, 30, 110, 50, 112, 30, 113, 100, 115, 82, 116, 127, 121, 60, 122, 60, 125, 47, 127, 38, 133, 30, 136, 50],
    [193, 92, 62, 96, 42, 100, 68, 102, 40, 111, 118, 112, 28, 119, 65, 121, 66, 122, 70, 123, 78, 124, 58, 127, 43, 135, 62],
    [194, 94, 38, 97, 27, 101, 25, 108, 78, 115, 58, 116, 60, 117, 60, 118, 135, 122, 62, 124, 25, 126, 68, 131, 38, 134, 38, 138, 58],
    [195, 87, 30, 95, 43, 103, 60, 106, 90, 110, 60, 111, 52, 112, 60, 117, 48, 119, 38, 126, 40, 131, 70, 132, 103, 134, 85, 135, 62, 138, 122],
    [196, 95, 28, 101, 62, 102, 44, 104, 62, 105, 90, 106, 62, 107, 70, 111, 100, 114, 125, 116, 85, 119, 40, 122, 38, 124, 58, 129, 100, 130, 62, 134, 72, 137, 30],
]

corner_cells = [
    [172, 148, 60, 151, 28, 152, 26, 153, 22, 154, 85, 155, 130, 156, 70, 157, 150, 158, 40, 159, 63, 163, 38, 167, 28, 168, 25],
    [173, 142, 48, 153, 55, 157, 107, 158, 60, 161, 62, 162, 125, 163, 47, 164, 56, 167, 40, 172, 42],
    [174, 141, 50, 147, 30, 152, 38, 159, 48, 160, 138, 162, 60, 163, 85, 164, 125, 167, 28, 170, 62],
    [175, 155, 40, 162, 72, 164, 38, 168, 22, 169, 23, 173, 43], [176, 155, 25, 162, 55, 165, 68, 168, 38],
    [177, 158, 46, 162, 60, 164, 44, 172, 25], [178, 155, 55, 159, 54, 161, 30, 165, 60, 167, 56, 168, 80, 171, 42, 172, 42, 175, 26],
    [179, 149, 60, 152, 52, 156, 68, 157, 22, 158, 46, 159, 115, 171, 68, 173, 60],
    [180, 139, 36, 154, 48, 155, 44, 156, 42, 157, 60, 164, 52, 168, 25, 173, 22],
    [181, 145, 33, 150, 68, 152, 63, 154, 23, 155, 46, 159, 60, 167, 26, 169, 44, 171, 50, 173, 60],
    [182, 145, 62, 146, 60, 151, 38, 152, 58, 153, 26, 154, 52, 155, 102, 157, 125, 158, 112, 159, 92, 160, 55, 161, 35, 163, 80, 165, 100, 167, 58, 169, 63, 174, 22, 175, 62],
    [183, 143, 125, 146, 85, 147, 25, 151, 55, 152, 26, 155, 132, 156, 115, 157, 88, 159, 38, 162, 50, 164, 80, 165, 55],
    [184, 140, 28, 141, 62, 143, 58, 149, 62, 150, 92, 153, 23, 154, 115, 155, 52, 156, 52, 158, 36, 162, 25, 166, 112],
    [185, 139, 58, 141, 60, 142, 50, 147, 55, 148, 50, 149, 52, 150, 70, 155, 42, 160, 63, 162, 52, 165, 42, 167, 75, 172, 42],
    [186, 139, 52, 143, 66, 144, 35, 145, 85, 146, 78, 147, 25, 148, 128, 149, 22, 150, 24, 151, 55, 154, 52, 160, 33, 162, 58, 163, 63, 164, 62, 169, 43, 170, 58],
    [187, 139, 118, 140, 62, 144, 52, 146, 70, 147, 72, 148, 58, 149, 62, 150, 48, 155, 50, 162, 42, 164, 22, 165, 58, 171, 60, 172, 23, 173, 22],
    [188, 139, 58, 140, 60, 144, 45, 145, 60, 148, 70, 149, 62, 150, 90, 155, 44, 157, 50, 158, 52, 162, 58, 166, 68, 167, 24, 169, 98, 172, 60, 174, 23],
    [189, 141, 128, 145, 56, 148, 30, 149, 90, 150, 62, 157, 47, 160, 104, 161, 30, 166, 55, 169, 62],
    [190, 140, 125, 141, 63, 142, 42, 144, 26, 146, 38, 147, 48, 151, 40, 153, 44, 158, 38, 159, 48, 162, 38, 163, 62],
    [191, 139, 68, 141, 32, 146, 62, 150, 85, 151, 56, 162, 43], [192, 146, 62, 149, 118, 151, 36],
    [193, 141, 46, 142, 57, 155, 58], [194, 139, 60, 143, 36], [195, 152, 33],
]

bulge_cells = [
    [84, 90, 30], [87, 87, 58], [88, 88, 58], [90, 85, 118], [91, 84, 112, 88, 53], [92, 88, 68],
    [93, 83, 97, 87, 132, 88, 46, 92, 92], [94, 85, 150, 87, 147, 88, 150, 92, 110, 93, 100, 97, 30],
    [95, 82, 104, 83, 46, 86, 112, 87, 150, 88, 120, 89, 108, 90, 85, 91, 48, 92, 38, 93, 132],
    [96, 83, 62, 84, 60, 85, 150, 86, 140, 87, 128, 88, 62, 89, 63, 90, 150, 91, 110, 92, 150, 94, 142, 100, 38],
    [97, 77, 38, 86, 58, 87, 70, 88, 85, 89, 48, 90, 52, 91, 78, 92, 78, 93, 103],
    [98, 86, 122, 87, 78, 88, 140, 89, 78, 90, 103, 91, 125, 92, 42, 95, 50, 96, 90, 97, 30],
    [99, 85, 85, 86, 107, 87, 95, 88, 60, 89, 30, 90, 62, 92, 63, 93, 57],
    [100, 83, 50, 86, 58, 87, 62, 88, 56, 89, 60, 91, 80, 92, 108, 93, 62, 94, 112, 95, 62],
    [101, 77, 58, 83, 58, 84, 100, 85, 46, 86, 118, 87, 70, 88, 58, 89, 127, 90, 118, 91, 68],
    [102, 86, 133, 87, 100, 88, 150, 89, 107, 90, 37, 91, 24, 92, 56, 93, 62], [103, 89, 150, 90, 122, 92, 107, 94, 113],
    [104, 88, 57, 89, 126, 98, 55], [105, 81, 62, 87, 42, 88, 44, 89, 40, 94, 85], [106, 87, 42, 90, 126],
    [107, 91, 128], [108, 92, 24, 100, 27],
]

stray_cells = [
    [72, 73, 47], [73, 73, 58], [74, 76, 30], [79, 81, 60], [80, 80, 38], [92, 124, 30], [96, 73, 125],
    [141, 83, 52, 82, 60, 81, 55], [142, 80, 60], [143, 81, 35], [146, 80, 40], [147, 88, 60, 124, 52],
    [148, 82, 35, 104, 88, 125, 62], [149, 107, 38], [150, 91, 30],
]

contour_x = [-7.89, -7.61, -7.48, -7.28, -7.12, -6.88, -6.78, -6.65, -6.45, -6.21, -6.14, -5.99, -5.96, -6.04, -5.89,
             -5.70, -5.63, -5.54, -5.36, -5.19, -4.99, -4.84, -4.69, -4.40, -4.13, -3.58, -3.56, -3.29, -2.96, -2.77,
             -2.49, -2.27, -1.94, -1.74, -1.31, -0.94, -0.70, -0.54, -0.26, -0.06, 0.20, 0.49, 0.78, 1.00, 1.27, 1.56,
             1.76, 1.93, 2.16, 2.27, 2.53, 2.82, 3.16, 3.44, 3.71, 3.93, 4.16, 4.44, 4.60, 4.82, 5.06, 5.20, 5.47, 5.59,
             5.80, 5.77, 5.68, 5.89, 6.07, 6.34, 6.57, 6.66, 6.76, 6.87, 7.08, 7.10, 7.06, 7.21, 7.20, 7.35, 7.42, 7.51,
             7.60, 7.73, 7.73, 7.72, 7.69, 7.55, 7.51, 7.35, 7.21, 7.00, 6.66, 6.47, 6.41, 6.21, 6.16, 6.06, 5.84, 5.65,
             5.57, 5.48, 5.38, 5.31, 5.18, 5.06, 4.93, 4.82, 4.49, 4.16, 3.82, 3.29, 3.16, 2.71, 2.04, 1.60, 1.42, 1.04,
             0.67, 0.27, -0.07, -0.36, -0.67, -1.02, -1.26, -1.39, -1.60, -1.85, -2.00, -2.10, -2.10, -2.22, -2.38, -2.51,
             -2.70, -2.90, -3.16, -3.44, -3.60, -3.80, -4.07, -4.18, -4.47, -4.73, -4.96, -5.05, -5.07, -5.22, -5.31,
             -5.47, -5.54, -5.70, -5.88, -6.00, -6.16, -6.36, -6.50, -6.48, -6.78, -6.98, -7.12, -6.87, -6.83, -6.96,
             -7.00, -7.07, -7.32, -7.41, -7.80, -7.71, -7.74, -7.94, -8.10, -8.09, -8.14, -8.19, -8.15, -8.04, -7.90,
             -7.95, -7.87, -7.89]
contour_y = [6.62, 6.65, 6.81, 6.72, 6.76, 6.78, 6.58, 6.43, 6.32, 6.25, 6.04, 5.90, 5.56, 5.37, 5.22,
             5.01, 4.83, 4.66, 4.55, 4.49, 4.60, 4.46, 4.32, 4.36, 4.29, 4.38, 4.67, 4.63, 4.61, 4.72,
             4.78, 4.67, 4.68, 4.60, 4.43, 4.18, 4.11, 3.97, 3.92, 3.78, 3.68, 3.54, 3.33, 3.12, 2.99, 2.82,
             2.59, 2.48, 2.27, 2.06, 1.85, 1.43, 1.18, 0.80, 0.42, 0.06, -0.21, -0.67, -1.05, -1.24, -1.46, -1.70, -1.79, -1.95,
             -2.05, -2.25, -2.62, -2.73, -2.86, -2.90, -2.99, -3.16, -3.38, -3.53, -3.62, -3.77, -3.89, -4.02, -4.33, -4.48, -4.76, -5.07,
             -5.24, -5.47, -5.71, -5.93, -6.17, -6.34, -6.58, -6.73, -6.69, -6.57, -6.62, -6.49, -6.29, -6.17, -5.97, -5.78, -5.67, -5.58,
             -5.39, -5.26, -5.07, -4.78, -4.63, -4.55, -4.48, -4.46, -4.65, -4.61, -4.74, -4.78, -4.67, -4.78, -4.69, -4.61, -4.46, -4.42,
             -4.21, -4.00, -3.83, -3.68, -3.41, -3.26, -3.22, -3.07, -2.96, -2.91, -2.77, -2.48, -2.34, -2.14, -1.99, -1.84,
             -1.58, -1.41, -1.14, -0.93, -0.53, -0.13, 0.17, 0.55, 0.69, 1.14, 1.09, 1.09, 1.37, 1.48, 1.59,
             1.81, 2.04, 2.06, 2.02, 2.17, 2.32, 2.43, 2.59, 2.87, 2.84, 3.00, 3.17, 3.23, 3.37, 3.60,
             3.75, 3.77, 3.69, 3.69, 3.90, 4.11, 4.22, 4.34, 4.48, 4.73, 4.95, 5.20, 5.41, 5.65, 5.93,
             6.15, 6.38, 6.62]

kpc_ticks = [-12, -8, -4, 0, 4, 8, 12]
top_ticks = [-1.6, -0.8, 0.0, 0.8, 1.6]
right_ticks = [-2.4, -1.6, -0.8, 0.0, 0.8, 1.6, 2.4]
colour_ticks = [0.2, 0.6, 1.0, 1.4]
age_ticks = [0.47, 0.843, 1.384]
age_labels = ['250', '350', '450']

cmap = LinearSegmentedColormap.from_list('fuv_nuv', ['#ffffff', '#004c99', '#fde5cc', '#b00000'])

n_cols, n_rows = 177, 198
grid = np.full((n_rows, n_cols), np.nan)
regions = [north_west_cells, west_cells, south_west_cells, north_cells, north_east_cells, east_cells,
           south_east_cells, south_cells, corner_cells, bulge_cells, stray_cells]
for region in regions:
    for line in region:
        for col, val in zip(line[1::2], line[2::2]):
            grid[line[0], col] = val / 100.0

x_left = -12.116
y_top = 12.095
extent = [x_left, x_left + n_cols * 24 / 175, y_top - n_rows * 24 / 196, y_top]

fs = 20
fig = plt.figure(figsize=(12.98, 10.963), dpi=300)
ax = fig.add_axes([293 / 3894, 1 - 3050 / 3289, 2682 / 3894, 2830 / 3289])
im = ax.imshow(grid, cmap=cmap, vmin=0.2, vmax=1.5, extent=extent, aspect='auto',
               origin='upper', interpolation='nearest')
ax.plot(contour_x, contour_y, color='black', lw=3)
ax.set_xlim(-12, 12)
ax.set_ylim(-12, 12)
ax.set_xticks(kpc_ticks)
ax.set_yticks(kpc_ticks)
ax.tick_params(labelsize=fs)
ax.set_xlabel('kpc', fontsize=fs)
ax.set_ylabel('kpc', fontsize=fs)

ax_top = ax.twiny()
ax_top.set_xlim(-2.268, 2.268)
ax_top.set_xticks(top_ticks)
ax_top.set_xticklabels(['%.1f' % t for t in top_ticks])
ax_top.tick_params(labelsize=fs)
ax_top.set_xlabel('arcminutes', fontsize=fs)

ax_right = ax.twinx()
ax_right.set_ylim(-2.533, 2.533)
ax_right.set_yticks(right_ticks)
ax_right.set_yticklabels(['%.1f' % t for t in right_ticks])
ax_right.tick_params(labelsize=fs)
fig.text(1287 / 1568, 1 - 637 / 1324.5, 'arcminutes', rotation=90, fontsize=fs, ha='center', va='center')

cax = fig.add_axes([3461 / 3894, 1 - 3050 / 3289, 144 / 3894, 2830 / 3289])
cbar = fig.colorbar(im, cax=cax, ticks=colour_ticks)
cbar.ax.set_yticklabels(['%.1f' % t for t in colour_ticks])
fig.text(1540 / 1568, 1 - 662 / 1324.5, 'FUV - NUV (mag)', rotation=90, fontsize=fs, ha='center', va='center')

# twinx moves the colorbar's own ticks to the left, so put them back afterwards
cax_age = cax.twinx()
cax_age.set_ylim(0.2, 1.5)
cax_age.yaxis.tick_left()
cax_age.set_yticks(age_ticks)
cax_age.set_yticklabels(age_labels)
cax_age.tick_params(labelsize=fs)
cax.yaxis.tick_right()
cax.tick_params(labelsize=fs)
fig.text(1353 / 1568, 1 - 783 / 1324.5, 'Myr', rotation=90, fontsize=fs, ha='center', va='center')

fig.savefig('out.png', dpi=300)
